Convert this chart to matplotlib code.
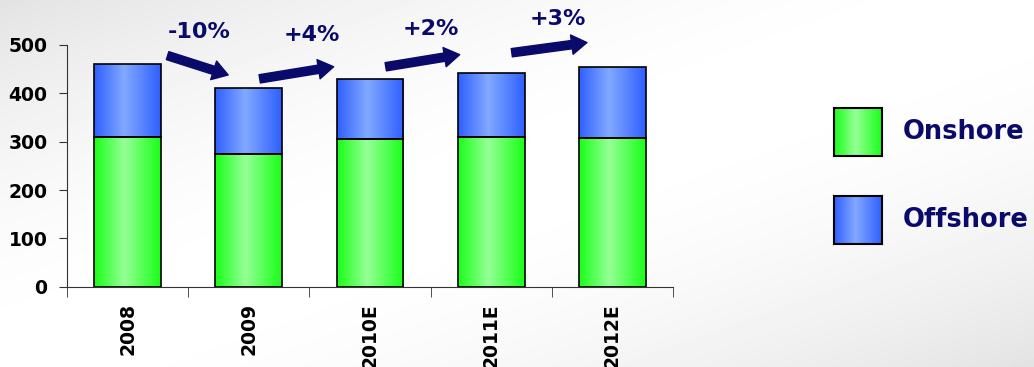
import numpy as np
import matplotlib
matplotlib.use("Agg")
import matplotlib.pyplot as plt
from matplotlib.colors import LinearSegmentedColormap

# -------------------------------------------------
# DATA
# -------------------------------------------------
years = ["2008", "2009", "2010E", "2011E", "2012E"]
onshore = [310, 274, 305, 309, 307]
offshore = [150, 138, 125, 133, 147]
growth_labels = ["-10%", "+4%", "+2%", "+3%"]

# arrow start/end and label spots, in (category, value) units
arrow_from = [(0.33, 478), (1.09, 430), (2.13, 455), (3.17, 484)]
arrow_to = [(0.83, 438), (1.70, 455), (2.74, 480), (3.79, 505)]
label_at = [(0.59, 527), (1.52, 521), (2.50, 534), (3.55, 554)]

# -------------------------------------------------
# STYLE
# -------------------------------------------------
navy = "#0a0a6b"
green_cm = LinearSegmentedColormap.from_list(
    "g", [(0, "#18ff18"), (0.45, "#96ff96"), (1, "#18ff18")])
blue_cm = LinearSegmentedColormap.from_list(
    "b", [(0, "#2f5fff"), (0.45, "#82a9ff"), (1, "#2f5fff")])
strip = np.linspace(0, 1, 256).reshape(1, -1)

plt.rcParams['font.family'] = ['DejaVu Sans']

fig = plt.figure(figsize=(10.34, 3.67), dpi=100)

# background wash: white band on the anti-diagonal, grey toward two corners
bg = fig.add_axes([0, 0, 1, 1])
vv, uu = np.mgrid[0:1:367j, 0:1:1034j]
d = np.abs(uu + vv - 1)
shade = 1 - 0.11 * d ** 1.8
bg.imshow(shade, cmap="gray", vmin=0, vmax=1, aspect="auto",
          extent=[0, 1, 0, 1], interpolation="bilinear")
bg.set_axis_off()

ax = fig.add_axes([67 / 1034, 1 - 286.7 / 367, 606 / 1034, 241.7 / 367])
ax.patch.set_alpha(0)

x = np.arange(len(years))
b1 = ax.bar(x, onshore, width=0.55, color="none", edgecolor="black",
            linewidth=1.2, zorder=3)
b2 = ax.bar(x, offshore, width=0.55, bottom=onshore, color="none",
            edgecolor="black", linewidth=1.2, zorder=3)


def fill_gradient(bars, cmap):
    for bar in bars:
        x0, y0 = bar.get_x(), bar.get_y()
        im = ax.imshow(strip, cmap=cmap, aspect="auto", zorder=2,
                       extent=[x0, x0 + bar.get_width(), y0, y0 + bar.get_height()])
        im.set_clip_path(bar)


fill_gradient(b1, green_cm)
fill_gradient(b2, blue_cm)

ax.set_xlim(-0.5, len(years) - 0.5)
ax.set_ylim(0, 500)
ax.set_yticks([0, 100, 200, 300, 400, 500])
ax.set_xticks(x)
ax.set_xticklabels(years, rotation=90, fontsize=13.5, fontweight="bold")
ax.set_xticks(np.arange(len(years) + 1) - 0.5, minor=True)
ax.tick_params(axis="x", which="major", length=0, pad=12)
ax.tick_params(axis="x", which="minor", length=7, color="#333333")
ax.tick_params(axis="y", length=6, color="#333333", labelsize=13.5, pad=8)
for lab in ax.get_yticklabels():
    lab.set_fontweight("bold")
for side in ["top", "right"]:
    ax.spines[side].set_visible(False)
for side in ["left", "bottom"]:
    ax.spines[side].set_color("#333333")

# growth arrows
for s, e, pos, txt in zip(arrow_from, arrow_to, label_at, growth_labels):
    ax.annotate("", xy=e, xytext=s, annotation_clip=False,
                arrowprops=dict(arrowstyle="simple,head_length=11,head_width=14,tail_width=6",
                                mutation_scale=1, color=navy, shrinkA=0, shrinkB=0))
    ax.text(pos[0], pos[1], txt, ha="center", va="center", fontsize=16,
            fontweight="bold", color=navy, clip_on=False)

# legend
for i, (name, cm) in enumerate([("Onshore", green_cm), ("Offshore", blue_cm)]):
    top = 108 + i * 88
    lax = fig.add_axes([834 / 1034, 1 - (top + 48) / 367, 48 / 1034, 48 / 367])
    lax.imshow(strip, cmap=cm, aspect="auto")
    lax.set_xticks([])
    lax.set_yticks([])
    for sp in lax.spines.values():
        sp.set_linewidth(1.5)
    fig.text(903 / 1034, 1 - (top + 24) / 367, name, ha="left", va="center",
             fontsize=18.5, fontweight="bold", color=navy)

fig.savefig("out.png", dpi=100)
